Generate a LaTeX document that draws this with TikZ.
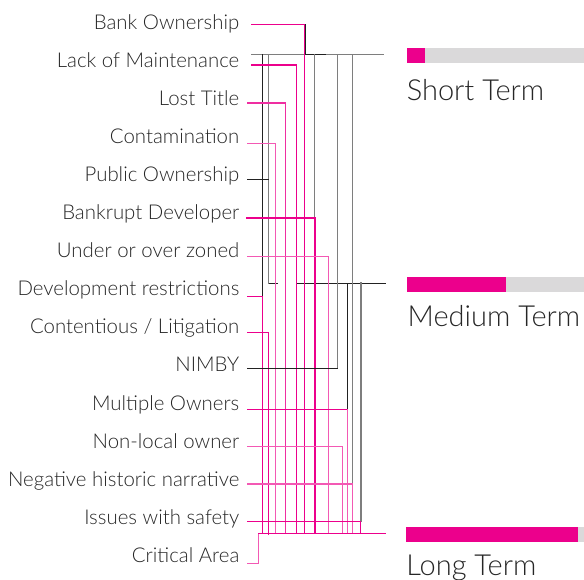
\documentclass[tikz,border=0pt]{standalone}
\usepackage{fontspec}
\setmainfont{Lato Light}
\usepackage{tikz}

\definecolor{mg}{HTML}{EC008C}
\definecolor{txt}{HTML}{262626}
\definecolor{bargray}{HTML}{DAD9DA}
\definecolor{ln}{HTML}{7E7E7E}
\definecolor{dk}{HTML}{222222}

\begin{document}
\begin{tikzpicture}[x=1pt, y=-1pt, line cap=rect,
    every node/.style={inner sep=0pt, text=txt},
    label/.style={anchor=base east, font=\fontsize{20.4}{20}\selectfont},
    term/.style={anchor=base west, font=\fontsize{29}{30}\selectfont},
    hot/.style={draw=mg, line width=1.5pt},
    soft/.style={draw=mg!65, line width=1.5pt},
    mid/.style={draw=mg!82, line width=1.5pt},
    grey/.style={draw=ln, line width=1.5pt},
    black/.style={draw=dk, line width=1.3pt}]
    \useasboundingbox (0,0) rectangle (584,579);

    % factor labels
    \foreach \t [count=\i from 0] in {Bank Ownership, Lack of Maintenance, Lost Title, Contamination,
        Public Ownership, Bankrupt Developer, Under or over zoned, Development restrictions,
        Contentious / Litigation, NIMBY, Multiple Owners, Non-local owner,
        Negative historic narrative, Issues with safety, Critical Area}
        \node[label] (f\i) at (239.5, 29.3+38.07*\i) {\t};

    % term lines
    \coordinate (s0) at (251.7,54.7);  \coordinate (s1) at (383.3,54.7);
    \coordinate (m0) at (296.7,283.3); \coordinate (m1) at (385.7,283.3);
    \coordinate (g0) at (258.3,533.3); \coordinate (g1) at (385.7,533.3);
    \draw[grey] (s0) -- (s1);
    \draw[black] (305,54.7) -- (325.7,54.7);
    \draw[black] (268.7,283.3) -- (277.3,283.3);
    \draw[black] (m0) -- (m1);

    % columns from the start terms
    \draw[black] (262.3,54.7) -- (262.3,296.7);
    \draw[grey] (268.7,54.7) -- (268.7,283.3);
    \draw[grey] (314.7,54.7) -- (314.7,217.7);
    \draw[grey] (337.7,54.7) -- (337.7,368.3);
    \draw[grey] (352.7,54.7) -- (352.7,484);
    \draw[black] (347.3,283.3) -- (347.3,409.3);
    \draw[grey, line width=2pt] (360.7,283.3) -- (360.7,521.3);
    \draw[dk, line width=0.9pt] (305.7,24.3) -- (305.7,54.7);

    % rows to the long term
    \draw[hot] (251.7,24.3) -| (304.3,533.3);
    \draw[hot] (251.7,65) -| (296.7,533.3);
    \draw[mid] (247.3,103) -| (285.3,533.3);
    \draw[soft] (247.3,143.3) -| (275.7,533.3);
    \draw[black] (247.3,179.7) -- (268.7,179.7);
    \draw[hot, line width=1.9pt] (247.3,217.7) -| (314.7,533.3);
    \draw[soft] (247.3,256.7) -| (328.7,533.3);
    \draw[hot] (247.3,296.7) -| (262.3,533.3);
    \draw[hot] (247.3,332.3) -| (268.7,534.3);
    \draw[black] (247.3,368.3) -- (337.7,368.3);
    \draw[hot] (247.3,409.3) -- (347.3,409.3);
    \draw[soft] (347.3,409.3) -- (347.3,533.3);
    \draw[soft] (247.3,446.7) -| (342.3,533.3);
    \draw[soft] (247.3,484) -| (352.7,533.3);
    \draw[hot] (247.3,521.3) -| (360.7,533.3);
    \draw[soft] (247.3,563.3) -| (g0);
    \draw[hot] (g0) -- (g1);

    % bars and terms
    \fill[bargray] (406.7,48.3) rectangle (584,62.7);
    \fill[mg] (406.7,48.3) rectangle (425,62.7);
    \node[term] (short) at (406.7,100.7) {Short Term};
    \fill[bargray] (406.7,277.3) rectangle (584,292);
    \fill[mg] (406.7,277.3) rectangle (506,292);
    \node[term] (medium) at (407.5,326.7) {Medium Term};
    \fill[bargray] (405.7,527.3) rectangle (584,542);
    \fill[mg] (405.7,527.3) rectangle (578.3,542);
    \node[term] (long) at (406.2,575) {Long Term};
\end{tikzpicture}
\end{document}
